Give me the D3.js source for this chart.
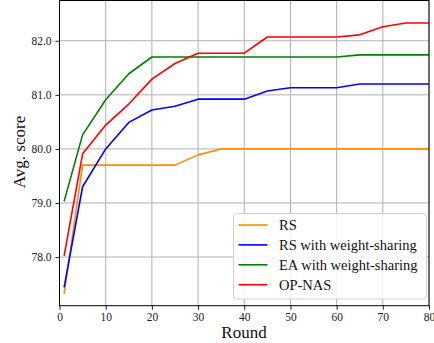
<!DOCTYPE html>
<html>
<head>
<meta charset="utf-8">
<script src="https://cdn.jsdelivr.net/npm/d3@7"></script>
<style>
  body { margin: 0; background: #fff; }
  svg text { font-family: "Liberation Serif", "Times New Roman", Times, "DejaVu Serif", serif !important; }
</style>
</head>
<body>
<div id="chart"></div>
<script>
// rounds and series
var rounds = [1, 5, 10, 15, 20, 25, 30, 35, 40, 45, 50, 55, 60, 65, 70, 75, 80];
var rs = [77.32, 79.70, 79.70, 79.70, 79.70, 79.70, 79.89, 80.0, 80.0, 80.0, 80.0, 80.0, 80.0, 80.0, 80.0, 80.0, 80.0];
var rsWs = [77.44, 79.30, 80.0, 80.49, 80.72, 80.79, 80.92, 80.92, 80.92, 81.07, 81.13, 81.13, 81.13, 81.20, 81.20, 81.20, 81.20];
var eaWs = [79.03, 80.26, 80.91, 81.39, 81.70, 81.70, 81.70, 81.70, 81.70, 81.70, 81.70, 81.70, 81.70, 81.74, 81.74, 81.74, 81.74];
var opNas = [78.02, 79.91, 80.44, 80.83, 81.29, 81.58, 81.77, 81.77, 81.77, 82.07, 82.07, 82.07, 82.07, 82.11, 82.26, 82.33, 82.33];
var seriesNames = ["RS", "RS with weight-sharing", "EA with weight-sharing", "OP-NAS"];
var seriesColors = ["#ff8c00", "#0000ff", "#008000", "#ff0000"];
var xTicks = [0, 10, 20, 30, 40, 50, 60, 70, 80];
var yTicks = [78.0, 79.0, 80.0, 81.0, 82.0];

var FONT = "'Liberation Serif', 'Times New Roman', Times, serif";
var svgWidth = 434, svgHeight = 343;
var margin = {top: 0.5, right: 5, bottom: 37.5, left: 59.5};
var width = 429 - margin.left;
var height = 305.7 - margin.top;

var svg = d3.select("#chart").append("svg")
  .attr("width", svgWidth)
  .attr("height", svgHeight)
  .attr("font-family", FONT);

var chartGroup = svg.append("g")
  .attr("transform", `translate(${margin.left}, ${margin.top})`);

var x = d3.scaleLinear().domain([0, 80]).range([0, width]);
var y = d3.scaleLinear().domain([77.1, 82.745]).range([height, 0]);

// grid
chartGroup.append("g").selectAll("line").data(xTicks).enter().append("line")
  .attr("x1", d => x(d)).attr("x2", d => x(d))
  .attr("y1", 0).attr("y2", height)
  .attr("stroke", "#b0b0b0").attr("stroke-width", 1);
chartGroup.append("g").selectAll("line").data(yTicks).enter().append("line")
  .attr("y1", d => y(d)).attr("y2", d => y(d))
  .attr("x1", 0).attr("x2", width)
  .attr("stroke", "#b0b0b0").attr("stroke-width", 1);

// axes
var bottomAxis = d3.axisBottom(x).tickValues(xTicks).tickSize(4).tickPadding(3).tickFormat(d3.format("d"));
var leftAxis = d3.axisLeft(y).tickValues(yTicks).tickSize(4).tickPadding(4).tickFormat(d3.format(".1f"));

var gx = chartGroup.append("g")
  .attr("transform", `translate(0, ${height})`)
  .call(bottomAxis);
var gy = chartGroup.append("g").call(leftAxis);
[gx, gy].forEach(function(g) {
  g.attr("font-family", FONT).attr("font-size", 11.5);
  g.select(".domain").remove();
  g.selectAll("line").attr("stroke", "#000").attr("stroke-width", 0.9);
  g.selectAll("text").style("font-family", FONT)
    .style("font-size", "11.5px").attr("fill", "#222");
});

// lines
var line = d3.line().x((d, i) => x(rounds[i])).y(d => y(d));
[rs, rsWs, eaWs, opNas].forEach(function(vals, k) {
  chartGroup.append("path")
    .datum(vals)
    .attr("d", line)
    .attr("fill", "none")
    .attr("stroke", seriesColors[k])
    .attr("stroke-width", 1.6)
    .attr("stroke-linejoin", "round");
});

// legend
var legend = chartGroup.append("g")
  .attr("transform", `translate(${233.5 - margin.left}, ${213.5 - margin.top})`);
legend.append("rect")
  .attr("width", 193).attr("height", 85.5)
  .attr("rx", 3).attr("ry", 3)
  .attr("fill", "#fff").attr("fill-opacity", 0.85)
  .attr("stroke", "#d0d0d0").attr("stroke-width", 1);
seriesNames.forEach(function(name, k) {
  var ly = 11.5 + k * 19.9;
  legend.append("line")
    .attr("x1", 5).attr("x2", 34)
    .attr("y1", ly).attr("y2", ly)
    .attr("stroke", seriesColors[k]).attr("stroke-width", 1.6);
  legend.append("text")
    .attr("x", 45.5).attr("y", ly)
    .attr("dy", "0.34em")
    .style("font-family", FONT)
    .style("font-size", "14.5px")
    .attr("fill", "#111")
    .text(name);
});

// frame
chartGroup.append("rect")
  .attr("width", width).attr("height", height)
  .attr("fill", "none").attr("stroke", "#000").attr("stroke-width", 1);

// axis labels
svg.append("text")
  .attr("transform", `translate(25, ${152}) rotate(-90)`)
  .attr("text-anchor", "middle")
  .style("font-family", FONT)
  .style("font-size", "17px")
  .attr("fill", "#111")
  .text("Avg. score");
svg.append("text")
  .attr("x", 244).attr("y", 338)
  .attr("text-anchor", "middle")
  .style("font-family", FONT)
  .style("font-size", "17px")
  .attr("fill", "#111")
  .text("Round");
</script>
</body>
</html>
